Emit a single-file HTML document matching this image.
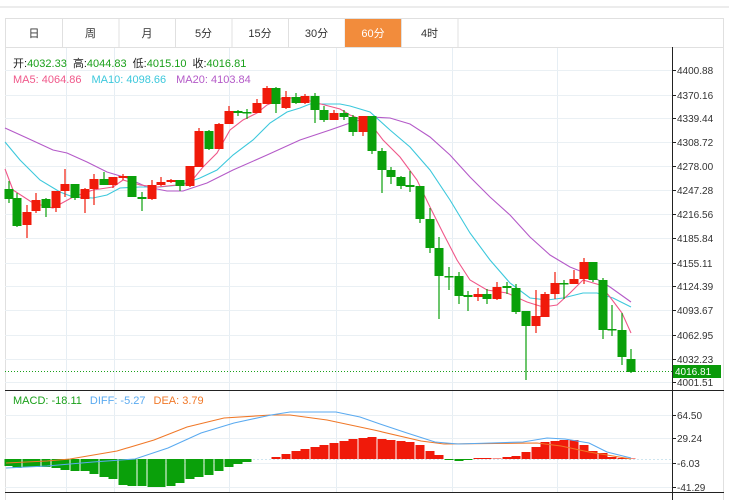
<!DOCTYPE html>
<html><head><meta charset="utf-8"><style>
body{margin:0;background:#fff;width:729px;height:500px;overflow:hidden;font-family:"Liberation Sans","Noto Sans CJK SC",sans-serif;}
svg{position:absolute;left:0;top:0}
</style></head><body>
<svg id="s" width="729" height="500" xmlns="http://www.w3.org/2000/svg" font-family="Liberation Sans, Noto Sans CJK SC, sans-serif">
<line x1="0" y1="7" x2="729" y2="7" stroke="#d8d8d8" stroke-width="1"/>
<rect x="5.5" y="18.5" width="718" height="490" fill="none" stroke="#e0e0e0"/>
<line x1="5" y1="47.5" x2="724" y2="47.5" stroke="#e0e0e0"/>
<g id="tabs" font-size="11" fill="#333" text-anchor="middle"></g>
<g id="grid"></g>
<g id="ma"></g>
<g id="candles"></g>
<g id="macd"></g>
<line x1="672.5" y1="47" x2="672.5" y2="500" stroke="#222"/>
<line x1="5" y1="390.5" x2="724" y2="390.5" stroke="#222"/>
<line x1="5" y1="492.5" x2="724" y2="492.5" stroke="#222"/>
<line x1="5" y1="371.5" x2="672" y2="371.5" stroke="#1aa01a" stroke-dasharray="1,2"/>
<g id="axis" font-size="10" fill="#333"></g>
<rect x="673" y="365" width="48" height="13" fill="#0a9a0a"/>
<text x="675" y="375" font-size="10" fill="#fff">4016.81</text>
<text x="13" y="67" font-size="11"><tspan fill="#222">开:</tspan><tspan fill="#1aa01a">4032.33</tspan><tspan fill="#222" dx="6">高:</tspan><tspan fill="#1aa01a">4044.83</tspan><tspan fill="#222" dx="6">低:</tspan><tspan fill="#1aa01a">4015.10</tspan><tspan fill="#222" dx="6">收:</tspan><tspan fill="#1aa01a">4016.81</tspan></text>
<text x="13" y="83" font-size="11"><tspan fill="#f0588a">MA5: 4064.86</tspan><tspan fill="#3cc8dc" dx="10">MA10: 4098.66</tspan><tspan fill="#b45ac8" dx="10">MA20: 4103.84</tspan></text>
<text x="13" y="404" font-size="11"><tspan fill="#1aa01a">MACD: -18.11</tspan><tspan fill="#5aaaf0" dx="8">DIFF: -5.27</tspan><tspan fill="#f07828" dx="8">DEA: 3.79</tspan></text>
</svg>
<script>
const NS="http://www.w3.org/2000/svg";
function el(p,t,a){const e=document.createElementNS(NS,t);for(const k in a)e.setAttribute(k,a[k]);document.getElementById(p).appendChild(e);return e;}
// tabs
const tabs=["日","周","月","5分","15分","30分","60分","4时"];
tabs.forEach((t,i)=>{const x=6+i*56.5;
 if(i==6) el("tabs","rect",{x:x,y:19,width:56,height:28,fill:"#f28c3c"});
 el("tabs","line",{x1:x+56.5,y1:19,x2:x+56.5,y2:47,stroke:"#e0e0e0"});
 const tx=el("tabs","text",{x:x+28,y:37,fill:i==6?"#fff":"#333"});tx.textContent=t;});
// grid
[66,114,229,336,452,557].forEach(x=>el("grid","line",{x1:x+.5,y1:48,x2:x+.5,y2:492,stroke:"#e6eef4"}));
const ticks=[["4400.88",70],["4370.16",95],["4339.44",118],["4308.72",142],["4278.00",166],["4247.28",190],["4216.56",214],["4185.84",238],["4155.11",263],["4124.39",286],["4093.67",310],["4062.95",335],["4032.23",359],["4001.51",382]];
ticks.forEach(([l,y])=>{el("grid","line",{x1:5,y1:y+.5,x2:672,y2:y+.5,stroke:"#eaf0f4"});
 el("axis","line",{x1:672,y1:y+.5,x2:676,y2:y+.5,stroke:"#222"});
 el("axis","text",{x:677,y:y+4}).textContent=l;});
[["64.50",415],["29.24",438],["-6.03",463],["-41.29",487]].forEach(([l,y])=>{
 el("grid","line",{x1:5,y1:y+.5,x2:672,y2:y+.5,stroke:"#eaf0f4"});
 el("axis","line",{x1:672,y1:y+.5,x2:676,y2:y+.5,stroke:"#222"});
 el("axis","text",{x:677,y:y+4}).textContent=l;});
// candles [x, bodyTop, bodyBot, hi, lo, red?]
const C=[[9,189,199,181,203,0],[17,198,226,193,227,0],[27,212,225,205,238,1],[36,200,211,193,213,1],[46,199,208,198,217,0],[56,191,208,191,212,1],[65,184,191,169,197,1],[75,184,198,184,200,0],[85,189,199,188,213,1],[94,179,189,174,205,1],[104,179,185,172,185,0],[113,177,185,177,188,1],[123,176,178,174,180,1],[132,176,197,176,197,0],[142,197,199,192,211,0],[152,185,199,180,200,1],[161,182,185,177,186,1],[171,180,182,179,183,1],[180,180,186,180,191,0],[190,166,186,166,187,1],[199,131,167,128,167,1],[209,131,149,130,150,0],[219,124,149,123,149,1],[229,111,124,106,124,1],[238,111,113,110,116,0],[247,112,113,109,119,0],[257,103,113,99,113,1],[267,88,104,86,104,1],[276,88,104,87,113,0],[286,97,108,91,109,1],[296,97,103,93,104,0],[305,96,103,94,104,1],[315,96,110,93,123,0],[324,110,120,106,122,0],[334,113,120,110,120,1],[344,113,117,110,120,0],[353,117,132,115,136,0],[363,116,132,116,136,1],[372,116,151,116,154,0],[382,151,170,148,193,0],[391,170,177,167,184,0],[401,177,186,176,189,0],[410,185,187,171,192,0],[420,186,219,186,223,0],[430,219,248,208,253,0],[439,248,276,237,319,0],[449,276,277,267,290,0],[459,276,296,272,304,0],[468,295,297,291,311,0],[478,294,297,288,301,1],[487,294,299,289,304,0],[497,287,299,282,300,1],[507,286,288,282,294,0],[516,288,312,284,314,0],[526,311,326,311,380,0],[536,316,326,290,333,1],[545,294,317,292,317,1],[555,283,294,272,299,1],[564,283,284,280,299,0],[574,279,284,270,284,1],[584,262,279,258,284,1],[593,262,280,262,282,0],[603,280,330,278,339,0],[612,329,330,305,336,0],[622,330,357,313,365,0],[631,359,372,349,373,0]];
C.forEach(([x,t,b,h,l,r])=>{const c=r?"#f01a0a":"#0aa00a";
 el("candles","line",{x1:x,y1:h,x2:x,y2:l,stroke:c,"stroke-width":1.2});
 el("candles","rect",{x:x-4.5,y:t,width:9,height:Math.max(b-t,1.5),fill:c});});
function poly(p,pts,c){el(p,"polyline",{points:pts.map(a=>a.join(",")).join(" "),fill:"none",stroke:c,"stroke-width":1.1});}
poly("ma",[[5,128],[27,138],[53,150],[67,153],[87,162],[107,172],[127,178],[147,187],[167,191],[183,191],[207,183],[233,170],[267,155],[300,140],[330,130],[350,123],[370,117],[390,118],[410,124],[430,137],[450,155],[470,177],[490,197],[510,215],[530,237],[550,255],[570,267],[590,275],[610,287],[631,302]],"#b45ac8");
poly("ma",[[5,142],[20,160],[40,180],[60,192],[73,197],[93,198],[107,195],[120,188],[140,187],[160,187],[180,185],[200,178],[217,170],[233,155],[253,140],[270,123],[287,112],[300,108],[310,104],[340,104],[350,106],[370,112],[390,130],[410,147],[430,170],[450,200],[470,233],[490,260],[510,283],[530,298],[547,300],[563,298],[583,293],[597,293],[613,298],[631,307]],"#3cc8dc");
poly("ma",[[5,169],[13,190],[33,203],[53,208],[73,197],[93,190],[113,187],[123,180],[140,185],[157,187],[177,185],[190,183],[203,167],[217,153],[230,130],[243,120],[257,113],[267,105],[283,98],[300,98],[317,103],[340,109],[350,115],[370,123],[383,140],[400,157],[417,180],[430,207],[443,233],[457,260],[470,280],[487,290],[507,293],[527,302],[543,307],[557,305],[570,293],[583,280],[600,285],[610,297],[622,313],[631,333]],"#f0588a");
// macd
const Z=459;
el("macd","line",{x1:5,y1:Z+.5,x2:672,y2:Z+.5,stroke:"#cfe6f0","stroke-dasharray":"2,2"});
const H=[-7,-9,-8,-8,-8,-9,-11,-12,-12,-15,-18,-20,-26,-27,-27,-28,-28,-27,-24,-20,-18,-16,-12,-8,-5,-3,0,0,2,5,8,10,12,14,16,18,20,21,22,20,19,18,17,14,8,4,-1,-2,-1,1,1,0.5,2,3,7,12,17,18,19,19,14,8,6,2,1,0.5];
H.forEach((v,i)=>{if(!v)return;const x=C[i]?C[i][0]:0;const c=v>0?"#f01a0a":"#0aa00a";
 el("macd","rect",{x:x-4.5,y:v>0?Z-v:Z,width:9,height:Math.abs(v),fill:c});});
poly("macd",[[6,463],[47,461],[70,459],[117,451],[154,440],[187,427],[224,418],[271,415],[290,415],[327,420],[374,430],[421,441],[444,444],[537,443],[561,446],[589,452],[631,459]],"#f07828");
poly("macd",[[6,468],[47,466],[93,462],[135,459],[168,448],[201,433],[234,423],[271,415],[290,412],[336,412],[360,417],[383,425],[407,433],[435,442],[458,444],[491,443],[523,442],[547,438],[565,439],[589,443],[607,452],[631,458]],"#5aaaf0");
</script>
</body></html>
